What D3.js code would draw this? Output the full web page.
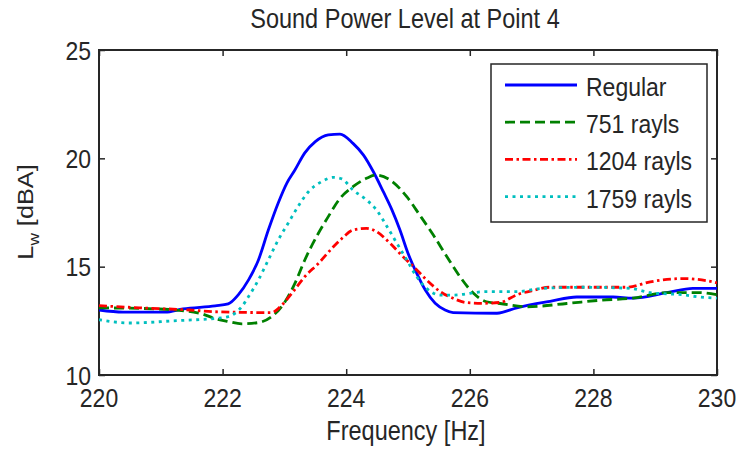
<!DOCTYPE html>
<html>
<head>
<meta charset="utf-8">
<script src="https://cdn.jsdelivr.net/npm/d3@7"></script>
<style>
  body { margin: 0; background: #fff; }
  text { font-family: "Liberation Sans", Arial, sans-serif; fill: #262626; }
</style>
</head>
<body>
<div id="app"></div>
<script>
// values
var freqRegular = [220, 220.39, 221.07, 221.36, 221.88, 222.09, 222.25, 222.42, 222.58, 222.74, 222.90, 223.04, 223.17, 223.33, 223.50, 223.71, 223.90, 224.11, 224.28, 224.44, 224.60, 224.74, 224.87, 225.00, 225.14, 225.28, 225.44, 225.60, 225.73, 226.44, 226.76, 227.30, 227.73, 228.32, 228.64, 229.19, 229.61, 230];
var lwRegular = [13.0, 12.9, 12.9, 13.05, 13.19, 13.28, 13.69, 14.39, 15.31, 16.69, 17.94, 18.86, 19.46, 20.25, 20.77, 21.08, 21.12, 20.69, 20.15, 19.38, 18.46, 17.62, 16.69, 15.62, 14.7, 13.92, 13.31, 13.0, 12.88, 12.85, 13.1, 13.4, 13.6, 13.6, 13.55, 13.8, 14.0, 14.0];

var freq751 = [220, 220.94, 221.63, 221.88, 222.09, 222.31, 222.58, 222.79, 223.01, 223.17, 223.33, 223.55, 223.71, 223.90, 224.11, 224.33, 224.49, 224.71, 224.98, 225.19, 225.41, 225.63, 225.84, 226.06, 226.27, 226.49, 226.93, 227.57, 228.11, 228.64, 229.19, 229.72, 230];
var lw751 = [13.1, 13.05, 12.85, 12.6, 12.47, 12.36, 12.42, 12.69, 13.38, 14.23, 15.31, 16.54, 17.31, 18.15, 18.69, 19.08, 19.23, 19.0, 18.23, 17.38, 16.46, 15.46, 14.54, 13.77, 13.38, 13.3, 13.15, 13.3, 13.45, 13.55, 13.8, 13.8, 13.7];

var freq1204 = [220, 220.66, 221.47, 221.88, 222.79, 222.96, 223.12, 223.33, 223.55, 223.77, 223.93, 224.11, 224.33, 224.49, 224.71, 224.92, 225.09, 225.30, 225.52, 225.73, 225.95, 226.22, 226.49, 226.76, 227.02, 227.30, 227.83, 228.54, 228.92, 229.45, 229.84, 230];
var lw1204 = [13.2, 13.1, 13.0, 12.92, 12.88, 13.23, 13.77, 14.54, 15.15, 15.85, 16.3, 16.69, 16.77, 16.62, 16.08, 15.46, 15.0, 14.39, 13.85, 13.54, 13.34, 13.31, 13.35, 13.7, 13.9, 14.05, 14.05, 14.05, 14.3, 14.45, 14.35, 14.25];

var freq1759 = [220, 220.50, 221.20, 222.01, 222.20, 222.31, 222.42, 222.58, 222.74, 222.90, 223.06, 223.22, 223.39, 223.60, 223.79, 223.93, 224.11, 224.33, 224.49, 224.66, 224.82, 224.98, 225.14, 225.30, 225.52, 225.73, 226.27, 226.76, 227.18, 227.83, 228.59, 228.92, 229.45, 229.72, 230];
var lw1759 = [12.55, 12.4, 12.5, 12.65, 12.85, 13.15, 13.62, 14.39, 15.31, 16.23, 17.0, 17.77, 18.46, 18.92, 19.12, 19.05, 18.54, 18.08, 17.62, 16.85, 16.08, 15.31, 14.54, 14.0, 13.69, 13.69, 13.85, 13.85, 14.0, 14.05, 14.0, 13.8, 13.7, 13.6, 13.55];

var seriesNames = ["Regular", "751 rayls", "1204 rayls", "1759 rayls"];
var xTicks = [220, 222, 224, 226, 228, 230];
var yTicks = [10, 15, 20, 25];

var W = 738, H = 449;
var pLeft = 99, pRight = 717, pTop = 50, pBottom = 375;
var stretch = 1.15; // text in the picture is a bit taller than normal

var x = d3.scaleLinear().domain([220, 230]).range([pLeft, pRight]);
var y = d3.scaleLinear().domain([10, 25]).range([pBottom, pTop]);

var svg = d3.select('#app').append('svg').attr('width', W).attr('height', H);

svg.append('clipPath').attr('id', 'clip').append('rect')
  .attr('x', pLeft).attr('y', pTop).attr('width', pRight - pLeft).attr('height', pBottom - pTop);

// put a (stretched) text at tx, ty
function label(g, tx, ty, str, size, anchor) {
  return g.append('text')
    .attr('transform', 'translate(' + tx + ',' + ty + ') scale(1,' + stretch + ')')
    .attr('text-anchor', anchor || 'middle')
    .style('font-size', size + 'px')
    .text(str);
}

// axes, ticks pointing in, mirrored on top and right
svg.append('g').attr('transform', 'translate(0,' + pBottom + ')')
  .call(d3.axisBottom(x).tickValues(xTicks).tickSize(-6).tickFormat(''));
svg.append('g').attr('transform', 'translate(0,' + pTop + ')')
  .call(d3.axisTop(x).tickValues(xTicks).tickSize(-6).tickFormat(''));
svg.append('g').attr('transform', 'translate(' + pLeft + ',0)')
  .call(d3.axisLeft(y).tickValues(yTicks).tickSize(-6).tickFormat(''));
svg.append('g').attr('transform', 'translate(' + pRight + ',0)')
  .call(d3.axisRight(y).tickValues(yTicks).tickSize(-6).tickFormat(''));
svg.selectAll('.domain').remove();
svg.selectAll('.tick line').attr('stroke', '#262626').attr('stroke-width', 1.5);

svg.append('rect').attr('x', pLeft).attr('y', pTop)
  .attr('width', pRight - pLeft).attr('height', pBottom - pTop)
  .attr('fill', 'none').attr('stroke', '#262626').attr('stroke-width', 2);

xTicks.forEach(function(t) { label(svg, x(t), 407, t, 23); });
yTicks.forEach(function(t) { label(svg, 91, y(t) + 9.5, t, 23, 'end'); });

label(svg, 405, 28, 'Sound Power Level at Point 4', 23.5);
label(svg, 406, 440, 'Frequency [Hz]', 23.5);

var yl = svg.append('text')
  .attr('transform', 'translate(33,212) rotate(-90) scale(' + stretch + ',1)')
  .attr('text-anchor', 'middle')
  .style('font-size', '22px');
yl.append('tspan').text('L');
yl.append('tspan').attr('dy', 6).style('font-size', '15px').text('w');
yl.append('tspan').attr('dy', -6).text(' [dBA]');

// series
var series = [
  { name: seriesNames[0], f: freqRegular, v: lwRegular, color: '#0000ff', dash: null, w: 2.8 },
  { name: seriesNames[1], f: freq751, v: lw751, color: '#008000', dash: '10,5', w: 2.8 },
  { name: seriesNames[2], f: freq1204, v: lw1204, color: '#ff0000', dash: '8,3.5,2.5,3.5', w: 2.8 },
  { name: seriesNames[3], f: freq1759, v: lw1759, color: '#00bfbf', dash: '3,4.5', w: 2.8 }
];

var line = d3.line()
  .x(function(d) { return x(d[0]); })
  .y(function(d) { return y(d[1]); })
  .curve(d3.curveMonotoneX);

var plot = svg.append('g').attr('clip-path', 'url(#clip)');
series.forEach(function(s) {
  var pts = d3.zip(s.f, s.v);
  plot.append('path').datum(pts)
    .attr('d', line)
    .attr('fill', 'none')
    .attr('stroke', s.color)
    .attr('stroke-width', s.w)
    .attr('stroke-dasharray', s.dash);
});

// legend
var lg = svg.append('g');
lg.append('rect').attr('x', 491).attr('y', 64).attr('width', 216).attr('height', 158)
  .attr('fill', '#fff').attr('stroke', '#262626').attr('stroke-width', 1.5);
series.forEach(function(s, i) {
  var ly = 85 + i * 37.2;
  lg.append('line').attr('x1', 505).attr('x2', 577).attr('y1', ly).attr('y2', ly)
    .attr('stroke', s.color).attr('stroke-width', s.w).attr('stroke-dasharray', s.dash);
  label(lg, 586, ly + 11, s.name, 23, 'start');
});
</script>
</body>
</html>
